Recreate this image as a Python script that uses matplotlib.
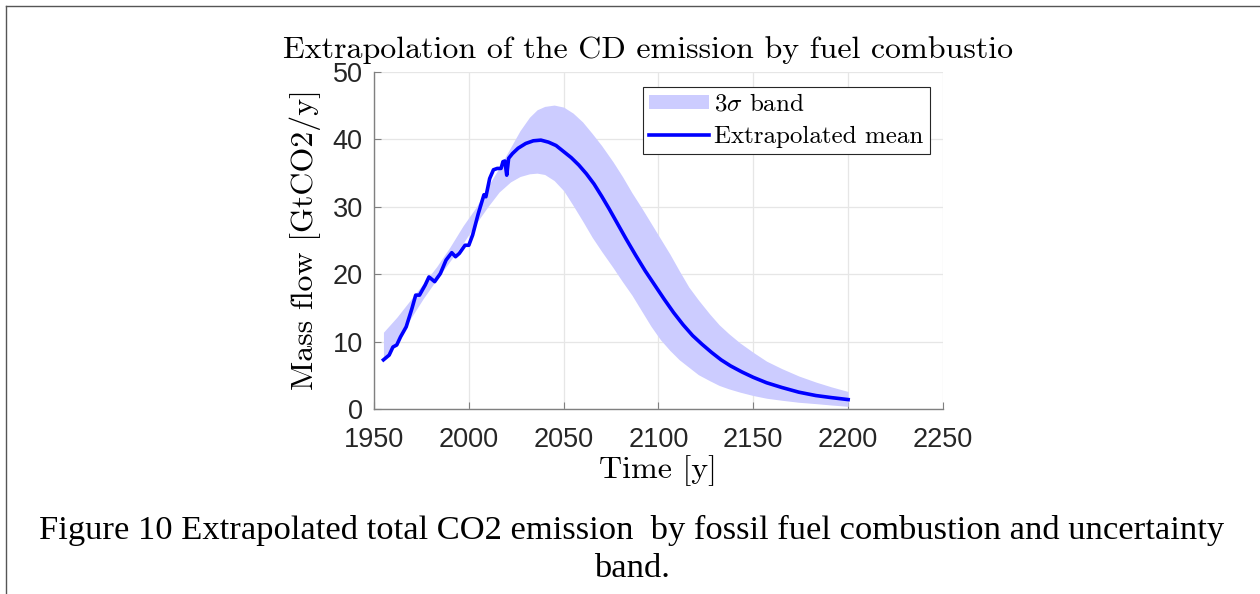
import numpy as np
import matplotlib
matplotlib.use("Agg")
import matplotlib.pyplot as plt
from matplotlib.lines import Line2D

plt.rcParams["mathtext.fontset"] = "cm"
plt.rcParams["axes.unicode_minus"] = False

# =========================================================
# Data
# =========================================================
mean_years = [1955, 1958, 1960, 1962, 1964, 1967, 1970, 1972, 1974, 1977,
              1979, 1982, 1985, 1988, 1991, 1993, 1995, 1998, 2000, 2002,
              2005, 2008, 2009, 2011, 2013, 2015, 2017, 2018, 2019, 2020,
              2021, 2023, 2026, 2030, 2034, 2038, 2042, 2046, 2050, 2054,
              2058, 2062, 2066, 2070, 2074, 2078, 2083, 2088, 2093, 2098,
              2103, 2108, 2113, 2118, 2123, 2128, 2133, 2138, 2144, 2150,
              2157, 2165, 2174, 2183, 2191, 2200]
mean_vals = [7.3, 8.0, 9.2, 9.5, 10.7, 12.2, 14.9, 16.9, 16.9, 18.4,
             19.6, 18.9, 20.1, 22.1, 23.2, 22.6, 23.1, 24.3, 24.3, 25.8,
             29.0, 31.8, 31.5, 34.2, 35.5, 35.7, 35.7, 36.7, 36.8, 34.7,
             37.2, 37.9, 38.7, 39.4, 39.8, 39.9, 39.6, 39.1, 38.2, 37.3,
             36.2, 34.9, 33.4, 31.6, 29.7, 27.7, 25.2, 22.8, 20.5, 18.4,
             16.3, 14.3, 12.5, 10.9, 9.6, 8.4, 7.3, 6.4, 5.5, 4.7,
             3.9, 3.2, 2.5, 2.0, 1.7, 1.4]

band_years = [1955, 1962, 1969, 1976, 1983, 1990, 1997, 2004, 2010, 2016,
              2022, 2027, 2032, 2036, 2040, 2045, 2050, 2055, 2060, 2065,
              2070, 2076, 2081, 2086, 2091, 2096, 2101, 2106, 2111, 2116,
              2121, 2127, 2132, 2137, 2143, 2150, 2157, 2165, 2174, 2183,
              2191, 2200]
band_upper = [11.4, 13.6, 16.1, 18.6, 21.1, 24.0, 27.2, 30.0, 33.0, 35.8,
              38.8, 41.3, 43.3, 44.4, 44.9, 45.1, 44.8, 43.9, 42.6, 40.9,
              39.1, 36.7, 34.5, 32.1, 29.9, 27.6, 25.3, 23.0, 20.5, 18.1,
              16.2, 14.1, 12.5, 11.2, 9.8, 8.4, 7.1, 6.0, 4.9, 4.0,
              3.3, 2.6]
band_lower = [7.2, 9.8, 13.3, 16.4, 19.2, 21.9, 24.6, 27.6, 30.0, 32.2,
              33.7, 34.5, 34.9, 35.0, 34.8, 33.9, 32.4, 30.2, 27.9, 25.5,
              23.4, 21.0, 18.9, 16.9, 14.6, 12.3, 10.3, 8.7, 7.3, 6.2,
              5.1, 4.2, 3.5, 3.0, 2.5, 2.0, 1.6, 1.3, 1.0, 0.8,
              0.6, 0.4]

x_ticks = [1950, 2000, 2050, 2100, 2150, 2200, 2250]
y_ticks = [0, 10, 20, 30, 40, 50]

# =========================================================
# Figure
# =========================================================
fig = plt.figure(figsize=(12.6, 5.94), dpi=100)
ax = fig.add_axes([0.2968, 0.3114, 0.4516, 0.5673])

ax.fill_between(band_years, band_lower, band_upper, color="#ccccff",
                linewidth=0, label=r"$3\sigma$ band")
ax.plot(mean_years, mean_vals, color="#0000ff", lw=2.6,
        label="Extrapolated mean")

ax.set_xlim(1950, 2250)
ax.set_ylim(0, 50)
ax.set_xticks(x_ticks)
ax.set_yticks(y_ticks)
ax.grid(True, color="#e6e6e6", lw=0.9)
ax.set_axisbelow(True)

for s in ("top", "right"):
    ax.spines[s].set_visible(False)
for s in ("left", "bottom"):
    ax.spines[s].set_color("#808080")
    ax.spines[s].set_linewidth(1.0)

ax.tick_params(direction="in", length=5, width=0.8, color="#808080",
               labelsize=19.5, labelcolor="#262626")
ax.tick_params(axis="x", pad=13)
ax.tick_params(axis="y", pad=8)
for lab in ax.get_xticklabels() + ax.get_yticklabels():
    lab.set_fontfamily("Liberation Sans")

leg = ax.legend(loc="upper right", bbox_to_anchor=(0.977, 0.955),
                borderaxespad=0, fancybox=False, framealpha=1,
                edgecolor="#262626", prop={"family": "cmr10", "size": 18},
                handlelength=2.4, handleheight=0.5, handletextpad=0.2,
                labelspacing=0.4, borderpad=0.25)
leg.get_frame().set_linewidth(0.8)

# title (cut off on the right in the source picture)
fig.text(283 / 1260, 1 - 50 / 594, "Extrapolation of the CD emission by fuel combustio",
         family="cmr10", fontsize=23, ha="left", va="center")
fig.text(305 / 1260, 1 - 240 / 594, "Mass flow [GtCO2/y]", family="cmr10",
         fontsize=23, rotation=90, ha="center", va="center")
fig.text(658 / 1260, 1 - 471 / 594, "Time [y]", family="cmr10",
         fontsize=23, ha="center", va="center")

# caption
fig.text(632 / 1260, 1 - 530 / 594,
         "Figure 10 Extrapolated total CO2 emission  by fossil fuel combustion and uncertainty",
         family="Liberation Serif", fontsize=24.8, ha="center", va="center")
fig.text(632 / 1260, 1 - 569 / 594, "band.", family="Liberation Serif",
         fontsize=24.8, ha="center", va="center")

# page frame lines
fig.add_artist(Line2D([6 / 1260, 6 / 1260], [0, 1 - 6 / 594],
                      transform=fig.transFigure, color="#555555", lw=1.0))
fig.add_artist(Line2D([6 / 1260, 1], [1 - 6 / 594, 1 - 6 / 594],
                      transform=fig.transFigure, color="#555555", lw=1.0))

fig.savefig("out.png", dpi=100)
